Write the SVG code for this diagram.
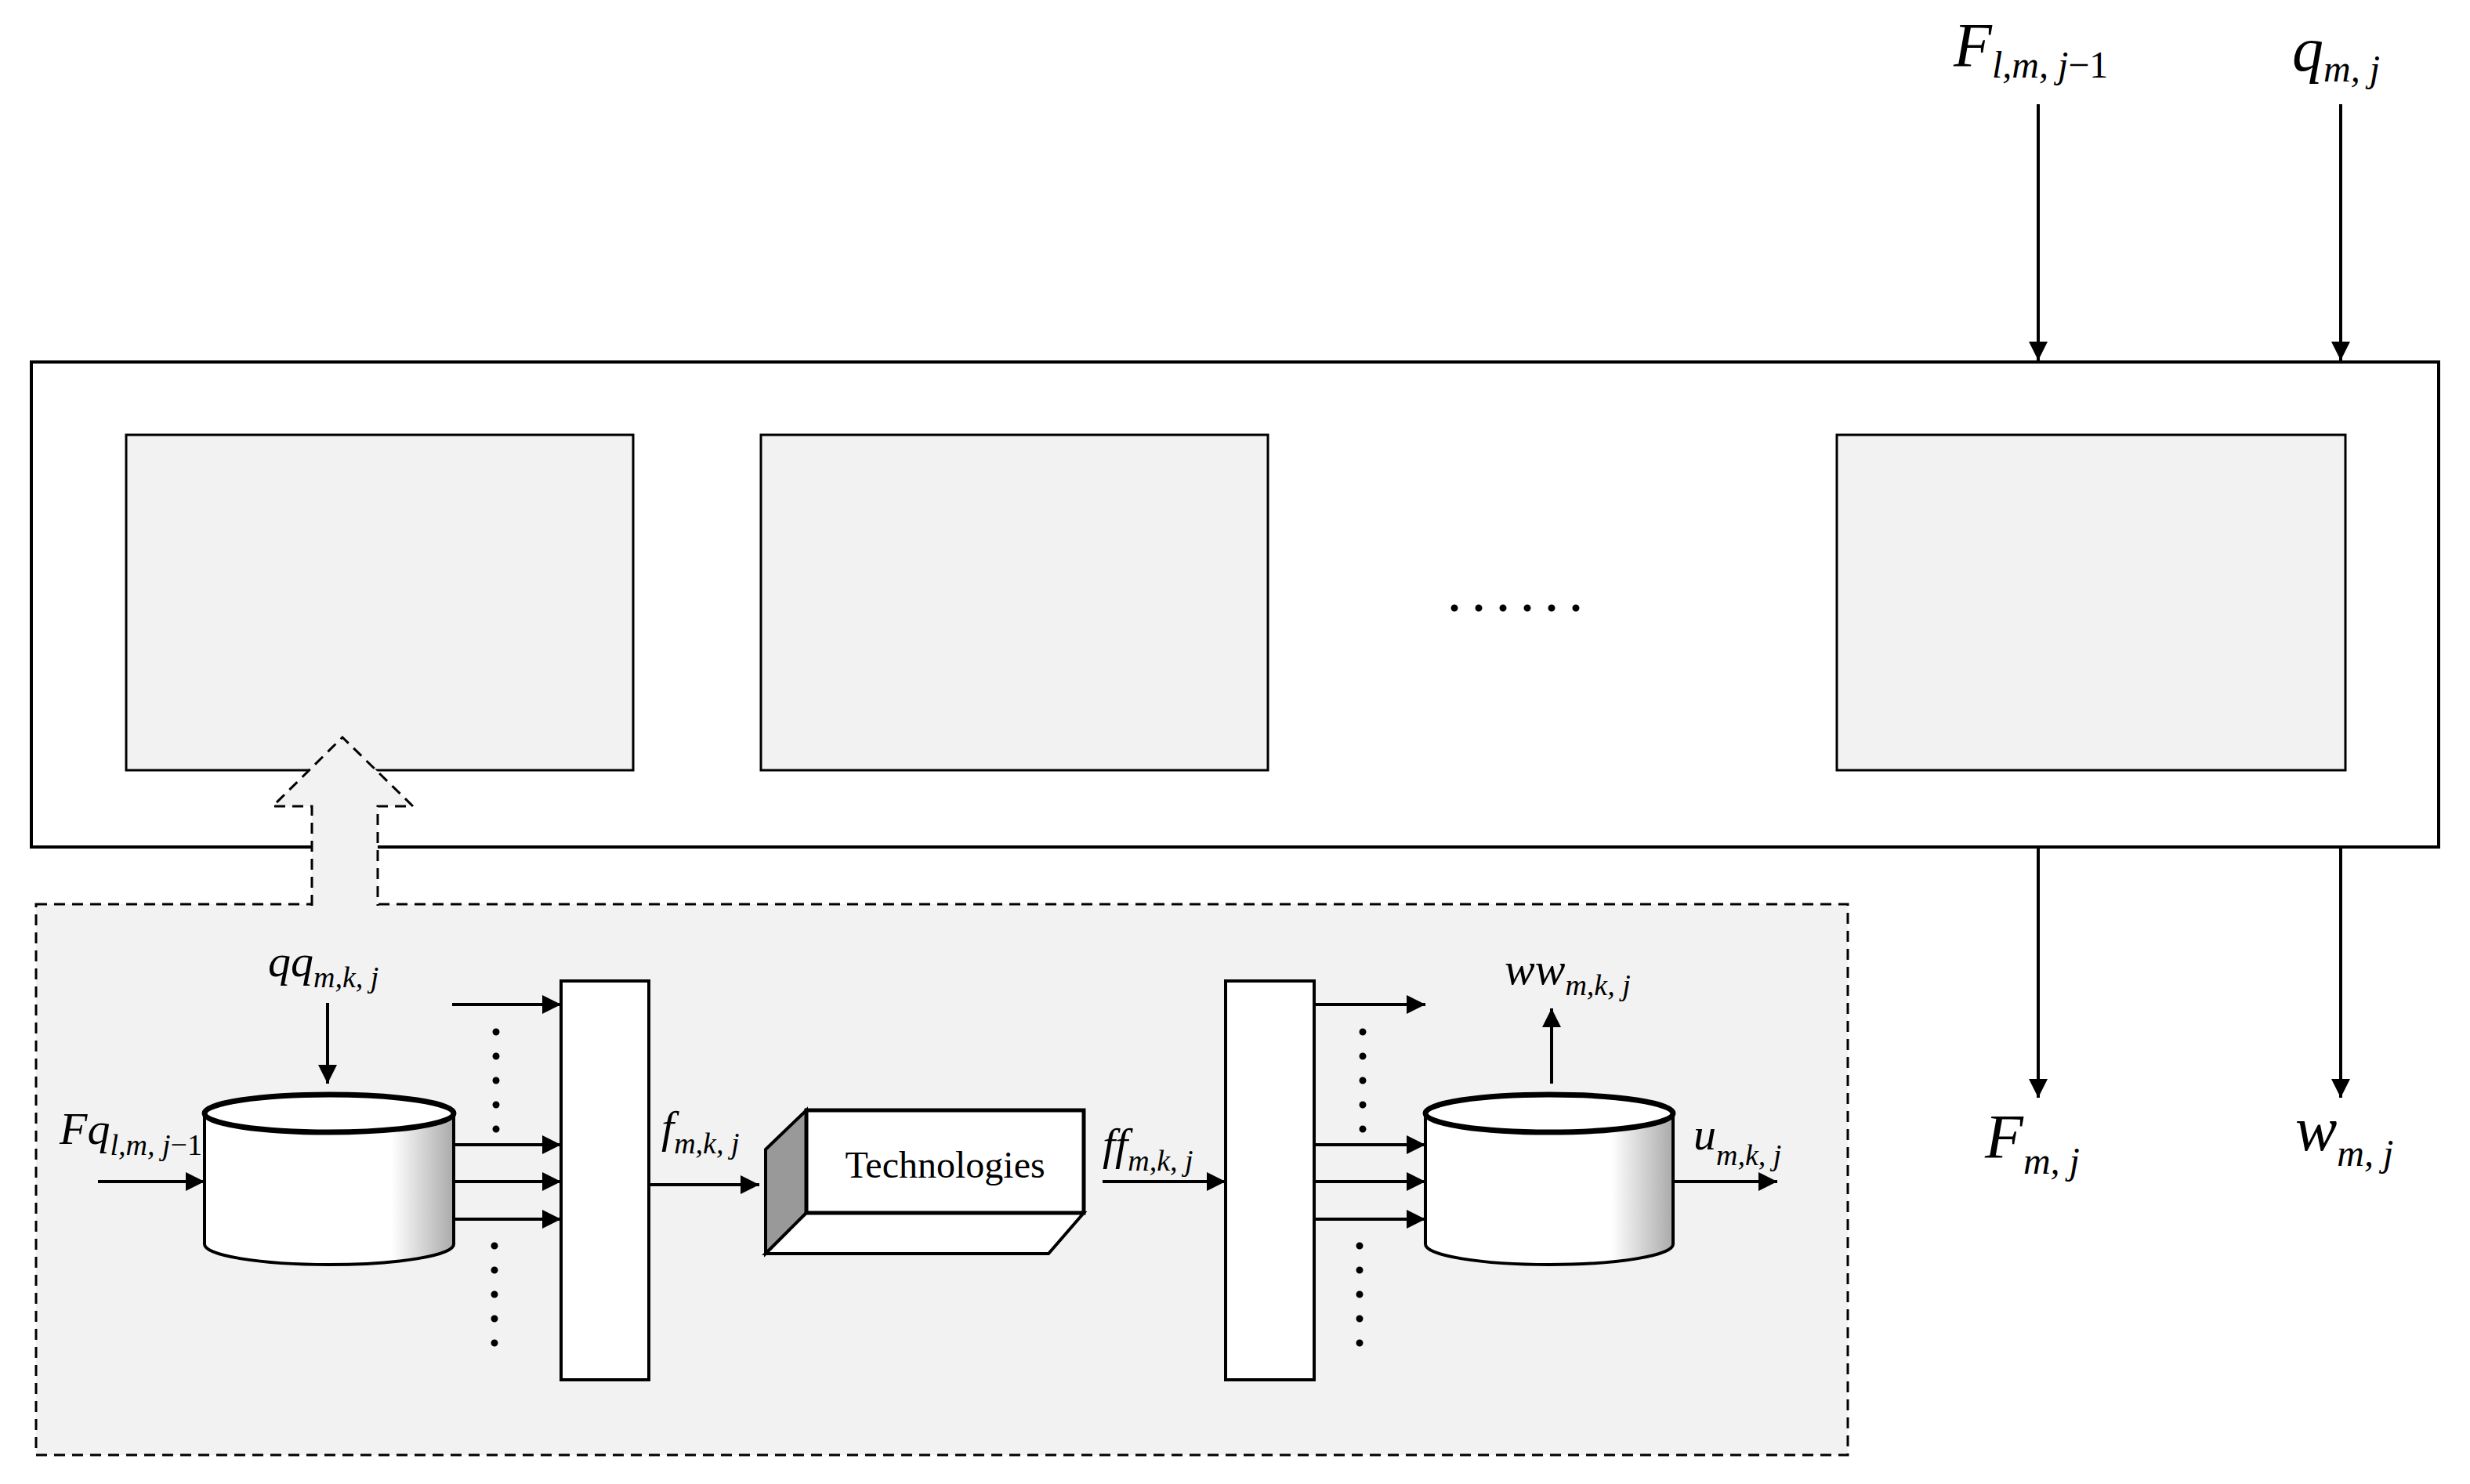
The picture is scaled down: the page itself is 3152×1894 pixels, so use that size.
<svg xmlns="http://www.w3.org/2000/svg" width="3152" height="1894" viewBox="0 0 3152 1894">
<style>
.ln{stroke:#000;stroke-width:4;fill:none}
.bx{stroke:#000;stroke-width:4;fill:#fff}
.gb{stroke:#000;stroke-width:3;fill:#f2f2f2}
.t{font-family:"Liberation Serif",serif;font-style:italic;fill:#000}
.big{font-size:80px}.bs{font-size:48px}
.sm{font-size:58px}.ss{font-size:38px}
.dot{stroke:#000;stroke-width:9;stroke-linecap:round;stroke-dasharray:0 31;fill:none}
</style>
<defs>
<marker id="ah" viewBox="0 0 10 10" refX="10" refY="5" markerWidth="6" markerHeight="6" markerUnits="strokeWidth" orient="auto"><path d="M0,0L10,5L0,10z" fill="#000"/></marker>
<linearGradient id="cg" x1="0" x2="1" y1="0" y2="0"><stop offset="0" stop-color="#fff"/><stop offset="0.75" stop-color="#fff"/><stop offset="1" stop-color="#aaa"/></linearGradient>
</defs>
<rect x="0" y="0" width="3152" height="1894" fill="#fff"/>
<g id="outer"><rect x="40" y="462" width="3072" height="619" class="bx" stroke-width="3"/></g>
<g id="box1"><rect x="161" y="555" width="647" height="428" class="gb"/></g>
<g id="box2"><rect x="971" y="555" width="647" height="428" class="gb"/></g>
<g id="box3"><rect x="2344" y="555" width="649" height="428" class="gb"/></g>
<g id="ellipsis"><line x1="1856" y1="776" x2="2040" y2="776" class="dot" stroke-width="11" stroke-dasharray="0 36.8"/></g>
<g id="panel"><rect x="46" y="1154" width="2312" height="703" fill="#f2f2f2" stroke="#000" stroke-width="3" stroke-dasharray="14 9"/></g>
<g id="bigarrow"><path d="M398,1156V1029H348L437,941L527,1029H482V1156" fill="#f2f2f2" stroke="#000" stroke-width="3" stroke-dasharray="14 9"/></g>
<g id="cyl1">
<path d="M261,1421V1588A159,26 0 0 0 579,1588V1421" fill="url(#cg)" stroke="#000" stroke-width="4"/>
<ellipse cx="420" cy="1421" rx="159" ry="24" fill="#fff" stroke="#000" stroke-width="7"/>
</g>
<g id="cyl2">
<path d="M1819,1421V1588A158,26 0 0 0 2135,1588V1421" fill="url(#cg)" stroke="#000" stroke-width="4"/>
<ellipse cx="1977" cy="1421" rx="158" ry="24" fill="#fff" stroke="#000" stroke-width="7"/>
</g>
<g id="split1"><rect x="716" y="1252" width="112" height="509" class="bx"/></g>
<g id="split2"><rect x="1564" y="1252" width="113" height="509" class="bx"/></g>
<g id="tech">
<path d="M977,1467L1029,1417V1548L977,1600z" fill="#999" stroke="#000" stroke-width="4"/>
<path d="M977,1600L1029,1548H1383L1338,1600z" fill="#fff" stroke="#000" stroke-width="4"/>
<rect x="1029" y="1417" width="354" height="131" fill="#fff" stroke="#000" stroke-width="5"/>
<text x="1206" y="1503" font-family="Liberation Serif,serif" font-size="48" text-anchor="middle">Technologies</text>
</g>
<g id="connectors">
<line x1="2601" y1="133" x2="2601" y2="460" class="ln" marker-end="url(#ah)"/>
<line x1="2987" y1="133" x2="2987" y2="460" class="ln" marker-end="url(#ah)"/>
<line x1="2601" y1="1081" x2="2601" y2="1401" class="ln" marker-end="url(#ah)"/>
<line x1="2987" y1="1081" x2="2987" y2="1401" class="ln" marker-end="url(#ah)"/>
<line x1="418" y1="1280" x2="418" y2="1383" class="ln" marker-end="url(#ah)"/>
<line x1="125" y1="1508" x2="261" y2="1508" class="ln" marker-end="url(#ah)"/>
<line x1="577" y1="1282" x2="716" y2="1282" class="ln" marker-end="url(#ah)"/>
<line x1="579" y1="1461" x2="716" y2="1461" class="ln" marker-end="url(#ah)"/>
<line x1="579" y1="1508" x2="716" y2="1508" class="ln" marker-end="url(#ah)"/>
<line x1="579" y1="1556" x2="716" y2="1556" class="ln" marker-end="url(#ah)"/>
<line x1="633" y1="1317" x2="633" y2="1447" class="dot" stroke-dasharray="0 26"/>
<line x1="631" y1="1590" x2="631" y2="1729" class="dot" stroke-dasharray="0 27.8"/>
<line x1="828" y1="1512" x2="969" y2="1512" class="ln" marker-end="url(#ah)"/>
<line x1="1407" y1="1508" x2="1564" y2="1508" class="ln" marker-end="url(#ah)"/>
<line x1="1677" y1="1282" x2="1819" y2="1282" class="ln" marker-end="url(#ah)"/>
<line x1="1677" y1="1461" x2="1819" y2="1461" class="ln" marker-end="url(#ah)"/>
<line x1="1677" y1="1508" x2="1819" y2="1508" class="ln" marker-end="url(#ah)"/>
<line x1="1677" y1="1556" x2="1819" y2="1556" class="ln" marker-end="url(#ah)"/>
<line x1="1739" y1="1317" x2="1739" y2="1447" class="dot" stroke-dasharray="0 26"/>
<line x1="1735" y1="1590" x2="1735" y2="1729" class="dot" stroke-dasharray="0 27.8"/>
<line x1="1980" y1="1383" x2="1980" y2="1287" class="ln" marker-end="url(#ah)"/>
<line x1="2135" y1="1508" x2="2268" y2="1508" class="ln" marker-end="url(#ah)"/>
</g>
<g id="labels">
<text x="2493" y="85" class="t big">F<tspan class="bs" dy="14">l,m, j</tspan><tspan class="bs" font-style="normal">−1</tspan></text>
<text x="2925" y="90" class="t big">q<tspan class="bs" dy="14">m, j</tspan></text>
<text x="2533" y="1478" class="t big">F<tspan class="bs" dy="20">m, j</tspan></text>
<text x="2929" y="1468" class="t big">w<tspan class="bs" dy="20">m, j</tspan></text>
<text x="342" y="1246" class="t sm">qq<tspan class="ss" dy="14">m,k, j</tspan></text>
<text x="76" y="1460" class="t sm">Fq<tspan class="ss" dy="14">l,m, j</tspan><tspan class="ss" font-style="normal">−1</tspan></text>
<text x="844" y="1458" class="t sm">f<tspan class="ss" dy="14">m,k, j</tspan></text>
<text x="1407" y="1480" class="t sm">ff<tspan class="ss" dy="14">m,k, j</tspan></text>
<text x="1920" y="1256" class="t sm">ww<tspan class="ss" dy="14">m,k, j</tspan></text>
<text x="2161" y="1467" class="t sm">u<tspan class="ss" dy="20">m,k, j</tspan></text>
</g>
</svg>
